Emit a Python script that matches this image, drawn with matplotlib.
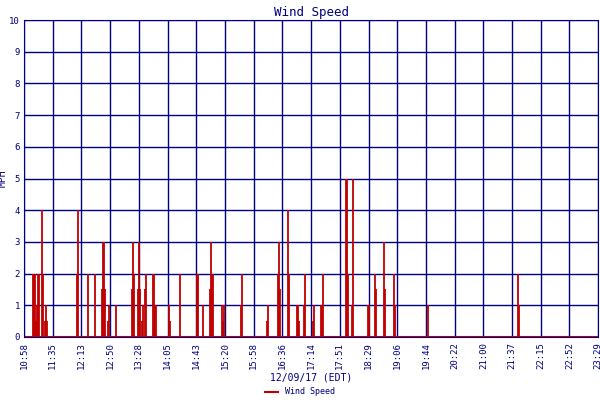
import matplotlib
matplotlib.use("Agg")
import matplotlib.pyplot as plt

# minutes after 10:58 and wind speed (mph)
minutes = [11.8, 13.1, 14.4, 15.7, 17.0, 18.3, 19.6, 23.5, 24.9, 27.5, 28.8, 30.1,
           69.3, 70.6, 83.7, 92.9, 102.0, 103.3, 104.6, 106.0, 109.9, 111.2, 120.3,
           141.3, 142.6, 143.9, 149.1, 150.4, 151.7, 154.3, 155.7, 158.3, 159.6,
           168.7, 170.0, 171.3, 172.7, 189.7, 191.0, 204.0, 226.3, 227.6, 234.1,
           243.3, 244.6, 245.9, 247.2, 259.0, 260.3, 261.6, 283.8, 285.1, 317.8, 319.2,
           332.2, 333.5, 334.8, 345.3, 346.6, 357.1, 358.4, 359.7, 366.2, 367.5,
           378.0, 379.3, 388.5, 389.8, 391.1, 421.2, 422.5, 423.8, 429.0, 430.3,
           450.0, 451.3, 459.1, 460.4, 470.9, 472.2, 484.0, 485.3, 528.4, 646.2, 647.5]
speed = [2, 2, 2, 0.5, 1, 2, 2, 4, 2, 0.5, 1, 0.5,
         2, 4, 2, 2, 1.5, 3, 3, 1.5, 0.5, 1, 1,
         1.5, 3, 2, 1.5, 3, 1.5, 0.5, 1, 1.5, 2,
         2, 2, 1, 1, 1, 0.5, 2, 2, 2, 1,
         1.5, 3, 2, 2, 1, 0.5, 1, 1, 2, 0.5, 1,
         2, 3, 1.5, 4, 2, 1, 1, 0.5, 1, 2,
         0.5, 1, 1, 1, 2, 5, 5, 2, 1, 5,
         1, 1, 2, 1.5, 3, 1.5, 2, 1, 1, 2, 1]
tick_labels = ["10:58", "11:35", "12:13", "12:50", "13:28", "14:05", "14:43", "15:20",
               "15:58", "16:36", "17:14", "17:51", "18:29", "19:06", "19:44", "20:22",
               "21:00", "21:37", "22:15", "22:52", "23:29"]

navy = "#000080"
red = "#c00000"
plt.rcParams['font.family'] = 'DejaVu Sans Mono'

fig = plt.figure(figsize=(6, 4), dpi=100)
ax = fig.add_axes([0.04, 0.1575, 0.957, 0.7925])
ax.plot([0, 751], [0, 0], color=red, lw=1.5)
ax.vlines(minutes, 0, speed, color=red, lw=1.3)
ax.set_xlim(0, 751)
ax.set_ylim(0, 10)
ax.set_xticks([i * 37.55 for i in range(len(tick_labels))])
ax.set_xticklabels(tick_labels, rotation=90, fontsize=6.5, color=navy)
ax.set_yticks(range(11))
ax.tick_params(axis='y', labelsize=6.5, colors=navy, length=0, pad=3)
ax.tick_params(axis='x', length=0, colors=navy)
ax.grid(True, color=navy, lw=1)
for s in ax.spines.values():
    s.set_color(navy)
ax.set_title("Wind Speed", color=navy, fontsize=9, pad=3)
ax.set_ylabel("MPH", color=navy, fontsize=7, labelpad=0)
ax.yaxis.set_label_coords(-0.028, 0.5)
ax.set_xlabel("12/09/17 (EDT)", color=navy, fontsize=7, labelpad=3)
fig.legend(handles=[plt.Line2D([], [], color=red, lw=1.5)], labels=["Wind Speed"],
           loc="lower center", bbox_to_anchor=(0.5, -0.01), frameon=False,
           fontsize=6, handlelength=1.5, labelcolor=navy)
fig.savefig("out.png")
